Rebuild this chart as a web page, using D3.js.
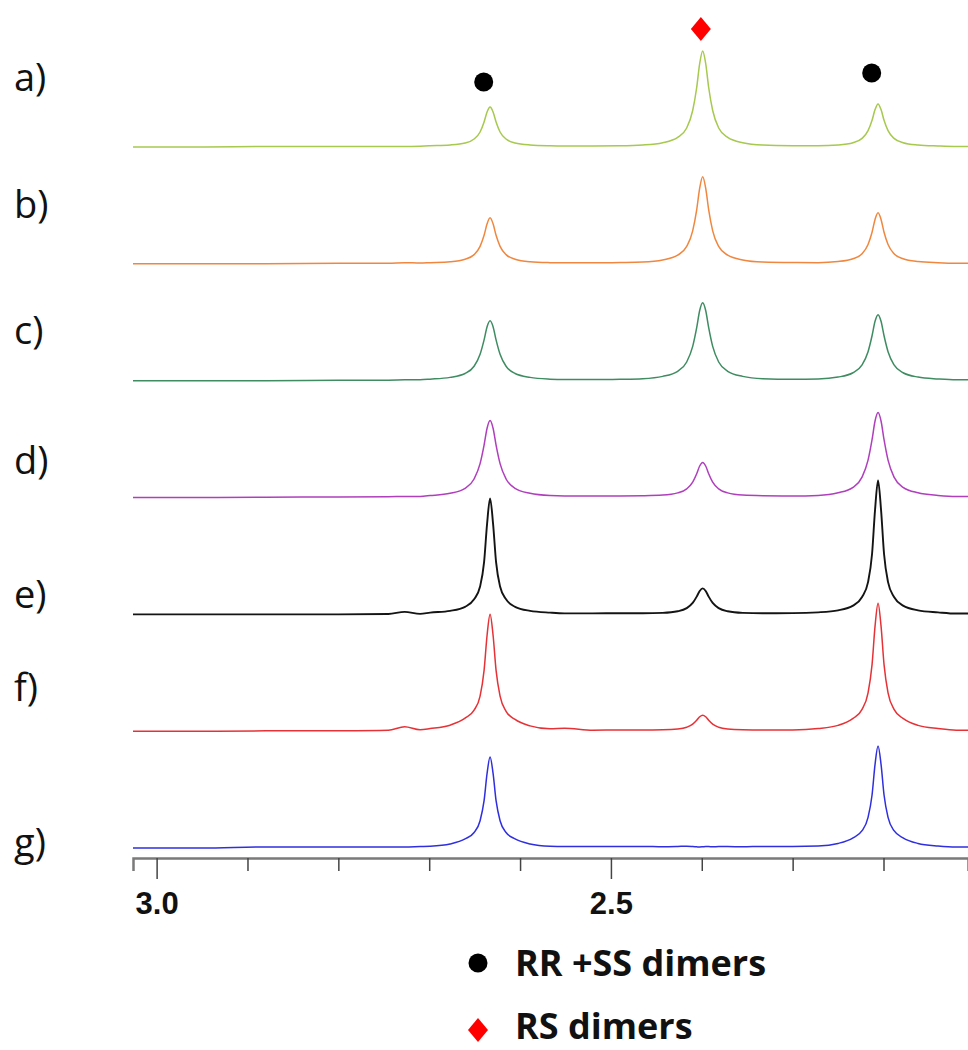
<!DOCTYPE html>
<html><head><meta charset="utf-8">
<script src="https://cdn.jsdelivr.net/npm/d3@7"></script>
<style>body{margin:0;background:#fff}svg{display:block}</style>
</head><body><svg id="c" width="968" height="1050"></svg>
<script>
// ---- data ----
const labels = ["a)","b)","c)","d)","e)","f)","g)"];
const colors = ["#a6c94e","#f0873f","#3f8c62","#b03fbd","#141414","#e63236","#2f2fe0"];
const ppm = [3.026,2.95,2.88,2.80,2.745,2.727,2.71,
  2.699,2.677,2.6605,2.6506,2.644,2.6396,2.6363,2.633,2.6297,2.6264,2.622,2.6154,2.6055,2.589,2.567,
  2.551,2.52,2.49,
  2.465,2.443,2.4265,2.4166,2.410,2.4056,2.4023,2.399,2.3957,2.3924,2.388,2.3814,2.3715,2.355,2.333,
  2.30,
  2.272,2.250,2.2335,2.2236,2.217,2.2126,2.2093,2.206,2.2027,2.1994,2.195,2.1884,2.1785,2.162,2.140,
  2.12,2.107];
const specA = [0,0,0.5,0.5,0.5,0.5,0.8,
  1.2,2,4,8,15,25,35,40,35,25,15,8,4,2,1.2,
  1,1,1.2,
  2,4.3,9.6,19,36.5,59.5,83.5,96,83.5,59.5,36.5,19,9.6,4.3,2,
  1.3,
  1.2,2,4.3,8.6,16.3,26.7,37.4,43,37.4,26.7,16.3,8.6,4.3,2,1,
  0.5,0.5];
const specB = [0,0,0,0.5,0.5,1.2,0.8,
  1.2,2.1,4.6,9.2,17.5,28.5,40,46,40,28.5,17.5,9.2,4.6,2.1,1.2,
  1,1,1.3,
  1.8,3.9,8.7,17.4,33,54,75.7,87,75.7,54,33,17.4,8.7,3.9,1.8,
  1.3,
  1.2,2.3,5.1,10.2,19.4,31.6,44.4,51,44.4,31.6,19.4,10.2,5.1,2.3,1.1,
  0.6,0.6];
const specC = [0,0,0,0.3,0.5,0.8,0.9,
  1.5,3.3,7.2,14.4,26.4,40.8,54,60,54,40.8,26.4,14.4,7.2,3.3,1.5,
  1.1,1.1,1.4,
  2,4.3,9.4,18.7,34.3,53,70.2,78,70.2,53,34.3,18.7,9.4,4.3,2,
  1.4,
  1.7,3.6,7.9,15.8,29,44.9,59.4,66,59.4,44.9,29,15.8,7.9,3.6,1.7,
  0.8,0.8];
const specD = [0,0,0.3,0.5,0.8,1,1.1,
  1.9,4.2,9.2,18.5,33.9,52.4,69.3,77,69.3,52.4,33.9,18.5,9.2,4.2,1.9,
  1.5,1.5,1.6,
  1.8,2.4,4.6,8.6,15.4,23.8,31.5,35,31.5,23.8,15.4,8.6,4.6,2.4,1.8,
  1.6,
  2.1,4.7,10.2,20.4,37.4,57.8,76.5,85,76.5,57.8,37.4,20.4,10.2,4.7,2.1,
  1,1];
const specE = [0,0,0,0,0.3,2.5,0.5,
  1.7,3.5,7.5,15,27.8,52.2,90.5,116,90.5,52.2,27.8,15,7.5,3.5,1.7,
  1,1,1.1,
  1.1,1.5,3.1,6.2,11.4,17.7,23.4,26,23.4,17.7,11.4,6.2,3.1,1.5,1.1,
  1.2,
  2,4,8.7,17.4,32.2,60.3,104.5,134,104.5,60.3,32.2,17.4,8.7,4,2,
  0.8,0.8];
const specF = [0,0,0.3,0.5,1,4.5,1.5,
  2.6,6,13,21,35.1,60.8,95.9,117,95.9,60.8,35.1,19.9,11.7,5.3,2.3,
  3,1,1.1,
  1.1,1.3,2.1,3.9,7,10.9,14.4,16,14.4,10.9,7,3.9,2.1,1.3,1.1,
  1.2,
  2.6,5.8,12.8,21.8,38.4,66.6,105,128,105,66.6,38.4,21.8,12.8,5.8,2.6,
  1,1];
const specG = [0,0,1,1,1,1,1.5,
  1.8,4.1,9.1,15.5,27.3,47.3,74.6,91,74.6,47.3,27.3,15.5,9.1,4.1,1.8,
  1.5,1.5,1.5,
  1.6,1.2,1.5,1.8,1.5,1.2,1,1.2,1.5,1.5,1.2,1.5,1.5,1.2,1.6,
  1.6,
  2,4.6,10.2,17.3,30.6,53,83.6,102,83.6,53,30.6,17.3,10.2,4.6,2,
  1,1];
const spectra = [specA,specB,specC,specD,specE,specF,specG];
const tickValues = [3.0,2.9,2.8,2.7,2.6,2.5,2.4,2.3,2.2];
const tickLabels = {"3.0":"3.0","2.5":"2.5"};
const dotPpm = [2.640, 2.213];
const dotHeight = [65, 74];
const diamondPpm = [2.401];
const diamondHeight = [118];
const legendItems = ["RR +SS dimers","RS dimers"];

// ---- drawing ----
const svg = d3.select("#c");
const x = d3.scaleLinear().domain([3.026, 2.107]).range([133, 968]);
const base = d3.scalePoint().domain(labels).range([147, 848]);
const amp = d3.scaleLinear().domain([0, 100]).range([0, 100]);
const labelY = [91, 218, 344, 474, 608, 701, 856];

labels.forEach((lab, i) => {
  const b = base(lab);
  const line = d3.line()
    .x(d => x(d[0]))
    .y(d => b - amp(d[1]))
    .curve(d3.curveMonotoneX);
  svg.append("path")
    .datum(ppm.map((p, k) => [p, spectra[i][k]]))
    .attr("d", line)
    .attr("fill", "none")
    .attr("stroke", colors[i])
    .attr("stroke-width", i === 4 ? 1.9 : 1.5)
    .attr("stroke-linejoin", "round");
  svg.append("text")
    .attr("x", 14).attr("y", labelY[i])
    .attr("font-family", "'Open Sans', sans-serif")
    .attr("font-size", 38)
    .attr("fill", "#111")
    .text(lab);
});

// markers on spectrum a
const bA = base(labels[0]);
svg.selectAll("circle.mk").data(dotPpm).enter().append("circle")
  .attr("cx", d => x(d)).attr("cy", (d, i) => bA - amp(dotHeight[i]))
  .attr("r", 9.5).attr("fill", "#000");
const diamond = "M0,-12L10,0L0,12L-10,0Z";
svg.selectAll("path.dm").data(diamondPpm).enter().append("path")
  .attr("d", diamond).attr("fill", "#f00")
  .attr("transform", (d, i) => `translate(${x(d)},${bA - amp(diamondHeight[i])})`);

// axis
const axis = d3.axisBottom(x).tickValues(tickValues).tickSizeOuter(0)
  .tickSize(13)
  .tickFormat(d => tickLabels[d.toFixed(1)] || "");
const ag = svg.append("g").attr("transform", "translate(0,858)").call(axis);
ag.select(".domain").attr("stroke", "#7a7a7a").attr("stroke-width", 2.5);
ag.selectAll(".tick line").attr("stroke", "#444").attr("stroke-width", 1.5)
  .attr("y2", d => tickLabels[d.toFixed(1)] ? 21 : 13);
ag.selectAll(".tick text")
  .attr("y", 56).attr("dy", 0)
  .attr("font-family", "'Liberation Sans', Arial, sans-serif")
  .attr("font-weight", "bold").attr("font-size", 31).attr("fill", "#111");

// legend
const lg = svg.append("g");
lg.append("circle").attr("cx", 478).attr("cy", 963).attr("r", 9.5).attr("fill", "#000");
lg.append("path").attr("d", diamond).attr("fill", "#f00")
  .attr("transform", "translate(478,1030)");
legendItems.forEach((t, i) => {
  lg.append("text").attr("x", 515).attr("y", 976 + i * 63)
    .attr("font-family", "'Open Sans', sans-serif")
    .attr("font-weight", "bold").attr("font-size", 36).attr("fill", "#111")
    .text(t);
});
</script>
</body></html>
